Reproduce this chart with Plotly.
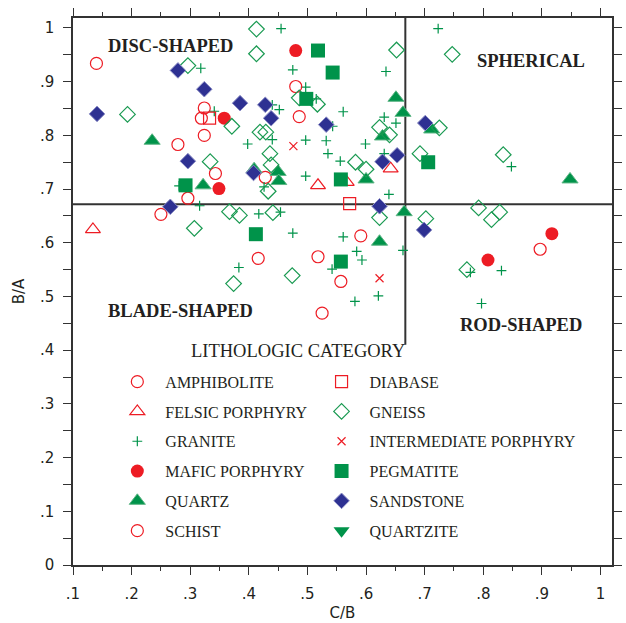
import plotly.graph_objects as go

# ---- measurements (C/B on x, B/A on y) by lithologic category ----
amphibolite_cb = [0.140, 0.324, 0.319, 0.324, 0.279, 0.343, 0.296, 0.250, 0.428]
amphibolite_ba = [0.934, 0.851, 0.832, 0.800, 0.783, 0.729, 0.683, 0.653, 0.722]

schist_cb = [0.480, 0.486, 0.416, 0.518, 0.591, 0.557, 0.525, 0.897]
schist_ba = [0.891, 0.835, 0.571, 0.574, 0.613, 0.528, 0.469, 0.588]

diabase_cb = [0.333, 0.572]
diabase_ba = [0.832, 0.673]

felsic_cb = [0.134, 0.518, 0.567, 0.642]
felsic_ba = [0.625, 0.707, 0.713, 0.738]

intermediate_cb = [0.476, 0.623]
intermediate_ba = [0.780, 0.534]

mafic_cb = [0.358, 0.349, 0.480, 0.917, 0.808]
mafic_ba = [0.832, 0.701, 0.958, 0.617, 0.568]

gneiss_cb = [0.296, 0.193, 0.371, 0.334, 0.413, 0.413, 0.652, 0.747, 0.486, 0.517,
             0.419, 0.429, 0.623, 0.640, 0.725, 0.692, 0.834, 0.436, 0.438, 0.433,
             0.582, 0.600, 0.307, 0.367, 0.384, 0.374, 0.441, 0.474, 0.623, 0.702,
             0.792, 0.828, 0.814, 0.772]
gneiss_ba = [0.930, 0.839, 0.817, 0.751, 0.998, 0.952, 0.959, 0.951, 0.870, 0.858,
             0.806, 0.806, 0.815, 0.801, 0.814, 0.766, 0.764, 0.766, 0.745, 0.696,
             0.750, 0.737, 0.627, 0.658, 0.651, 0.524, 0.656, 0.539, 0.647, 0.645,
             0.665, 0.657, 0.643, 0.550]

granite_cb = [0.318, 0.341, 0.398, 0.455, 0.475, 0.634, 0.497, 0.515, 0.452, 0.561,
              0.440, 0.437, 0.440, 0.543, 0.497, 0.532, 0.535, 0.556, 0.599, 0.631,
              0.651, 0.631, 0.723, 0.426, 0.497, 0.639, 0.848, 0.316, 0.383, 0.417,
              0.454, 0.475, 0.561, 0.663, 0.584, 0.593, 0.542, 0.581, 0.621, 0.778,
              0.831, 0.797, 0.281]
granite_ba = [0.925, 0.845, 0.784, 0.999, 0.922, 0.919, 0.890, 0.868, 0.848, 0.844,
              0.857, 0.835, 0.792, 0.817, 0.791, 0.790, 0.766, 0.752, 0.784, 0.834,
              0.823, 0.766, 0.999, 0.704, 0.724, 0.690, 0.742, 0.669, 0.554, 0.654,
              0.657, 0.618, 0.611, 0.586, 0.584, 0.568, 0.551, 0.491, 0.501, 0.545,
              0.548, 0.487, 0.706]

pegmatite_cb = [0.518, 0.543, 0.498, 0.557, 0.706, 0.292, 0.412, 0.557]
pegmatite_ba = [0.958, 0.917, 0.868, 0.718, 0.750, 0.707, 0.616, 0.565]

quartz_cb = [0.235, 0.322, 0.409, 0.450, 0.451, 0.651, 0.663, 0.628, 0.712, 0.600,
             0.665, 0.623, 0.948]
quartz_ba = [0.790, 0.707, 0.737, 0.732, 0.715, 0.870, 0.842, 0.798, 0.811, 0.718,
             0.657, 0.602, 0.718]

sandstone_cb = [0.279, 0.324, 0.385, 0.141, 0.296, 0.408, 0.428, 0.438, 0.532, 0.628,
                0.653, 0.701, 0.266, 0.623, 0.699]
sandstone_ba = [0.921, 0.886, 0.860, 0.840, 0.752, 0.730, 0.857, 0.832, 0.820, 0.751,
                0.763, 0.823, 0.667, 0.668, 0.624]

quartzite_cb = [None]
quartzite_ba = [None]

# shape-class boundaries
cb_split = 0.667
ba_split = 0.672
cb_split_floor = 0.41

x_tick_vals = [0.1, 0.2, 0.3, 0.4, 0.5, 0.6, 0.7, 0.8, 0.9, 1.0]
x_tick_text = [".1", ".2", ".3", ".4", ".5", ".6", ".7", ".8", ".9", "1"]
y_tick_vals = [0.0, 0.1, 0.2, 0.3, 0.4, 0.5, 0.6, 0.7, 0.8, 0.9, 1.0]
y_tick_text = ["0", ".1", ".2", ".3", ".4", ".5", ".6", ".7", ".8", ".9", "1"]

RED = "#ed1c24"
GREEN = "#00934a"
NAVY = "#2e3192"
INK = "#231f20"

# (name, x, y, marker, legend column)
series = [
    ("AMPHIBOLITE", amphibolite_cb, amphibolite_ba,
     dict(symbol="circle-open", size=12, color=RED, line=dict(width=1.2, color=RED)), "legend"),
    ("FELSIC PORPHYRY", felsic_cb, felsic_ba,
     dict(symbol="triangle-up-open", size=13, color=RED, line=dict(width=1.2, color=RED)), "legend"),
    ("GRANITE", granite_cb, granite_ba,
     dict(symbol="cross-thin", size=7, color=GREEN, line=dict(width=1.2, color=GREEN)), "legend"),
    ("MAFIC PORPHYRY", mafic_cb, mafic_ba,
     dict(symbol="circle", size=13, color=RED, line=dict(width=0)), "legend"),
    ("QUARTZ", quartz_cb, quartz_ba,
     dict(symbol="triangle-up", size=14, color=GREEN, line=dict(width=1, color="#5db585")), "legend"),
    ("SCHIST", schist_cb, schist_ba,
     dict(symbol="circle-open", size=12, color=RED, line=dict(width=1.2, color=RED)), "legend"),
    ("DIABASE", diabase_cb, diabase_ba,
     dict(symbol="square-open", size=12, color=RED, line=dict(width=1.2, color=RED)), "legend2"),
    ("GNEISS", gneiss_cb, gneiss_ba,
     dict(symbol="diamond-open", size=12, color="#1a9a52", line=dict(width=1.2, color="#1a9a52")), "legend2"),
    ("INTERMEDIATE PORPHYRY", intermediate_cb, intermediate_ba,
     dict(symbol="x-thin", size=8, color=RED, line=dict(width=1.2, color=RED)), "legend2"),
    ("PEGMATITE", pegmatite_cb, pegmatite_ba,
     dict(symbol="square", size=14, color=GREEN, line=dict(width=0)), "legend2"),
    ("SANDSTONE", sandstone_cb, sandstone_ba,
     dict(symbol="diamond", size=12, color=NAVY, line=dict(width=1, color="#8d8fc6")), "legend2"),
    ("QUARTZITE", quartzite_cb, quartzite_ba,
     dict(symbol="triangle-down", size=14, color=GREEN, line=dict(width=0)), "legend2"),
]

fig = go.Figure()
for name, xs, ys, marker, leg in series:
    fig.add_trace(go.Scatter(x=xs, y=ys, mode="markers", name=name, marker=marker,
                             legend=leg, legendgroup=name, hoverinfo="skip"))

# boundary lines between the four shape classes
fig.add_shape(type="line", xref="paper", yref="y", x0=0, x1=1, y0=ba_split, y1=ba_split,
              line=dict(color="#333333", width=2), layer="below")
fig.add_shape(type="line", xref="x", yref="y", x0=cb_split, x1=cb_split,
              y0=cb_split_floor, y1=1.0186, line=dict(color="#333333", width=2), layer="below")

quad_font = dict(family="Liberation Serif", size=18.5, color=INK)
for text, ax, ay in [("DISC-SHAPED", 0.180, 0.949), ("SPHERICAL", 0.849, 0.922),
                     ("BLADE-SHAPED", 0.200, 0.464), ("ROD-SHAPED", 0.831, 0.439)]:
    fig.add_annotation(text="<b>" + text + "</b>", x=ax, y=ay, xref="paper", yref="paper",
                       showarrow=False, font=quad_font, xanchor="center", yanchor="middle")

# legend heading
fig.add_annotation(text="LITHOLOGIC CATEGORY", x=0.4175, y=0.391, xref="paper", yref="paper",
                   showarrow=False, xanchor="center", yanchor="middle",
                   font=dict(family="Liberation Serif", size=18.5, color=INK))

axis_common = dict(
    showgrid=False, zeroline=False, showline=True, linecolor="#333333", linewidth=1.5,
    mirror="ticks", ticks="outside", tickcolor="#333333", tickwidth=1.2, ticklen=8,
    tickfont=dict(family="DejaVu Sans", size=15, color=INK),
    ticklabelstandoff=6,
)

fig.update_xaxes(
    **axis_common, range=[0.1, 1.0196], tickmode="array", tickvals=x_tick_vals,
    ticktext=x_tick_text,
    minor=dict(tickmode="linear", tick0=0.05, dtick=0.1, ticks="outside", ticklen=4,
               tickcolor="#333333", tickwidth=1.2),
    title=dict(text="C/B", font=dict(family="DejaVu Sans", size=15, color=INK), standoff=6),
)
fig.update_yaxes(
    **axis_common, range=[0, 1.0186], tickmode="array", tickvals=y_tick_vals,
    ticktext=y_tick_text,
    minor=dict(tickmode="linear", tick0=0.05, dtick=0.1, ticks="outside", ticklen=8,
               tickcolor="#333333", tickwidth=1.2),
    title=dict(text="B/A", font=dict(family="DejaVu Sans", size=15, color=INK), standoff=12),
)

legend_style = dict(
    orientation="v", xanchor="left", yanchor="top", y=0.3661,
    bgcolor="rgba(0,0,0,0)", borderwidth=0, itemwidth=46,
    font=dict(family="Liberation Serif", size=16, color=INK),
    traceorder="grouped", tracegroupgap=6,
)

fig.update_layout(
    width=626, height=623,
    margin=dict(l=73, r=4, t=18, b=56),
    paper_bgcolor="white", plot_bgcolor="white",
    showlegend=True,
    legend=dict(x=0.0674, **legend_style),
    legend2=dict(x=0.4463, **legend_style),
)

fig.write_html("out.html")
